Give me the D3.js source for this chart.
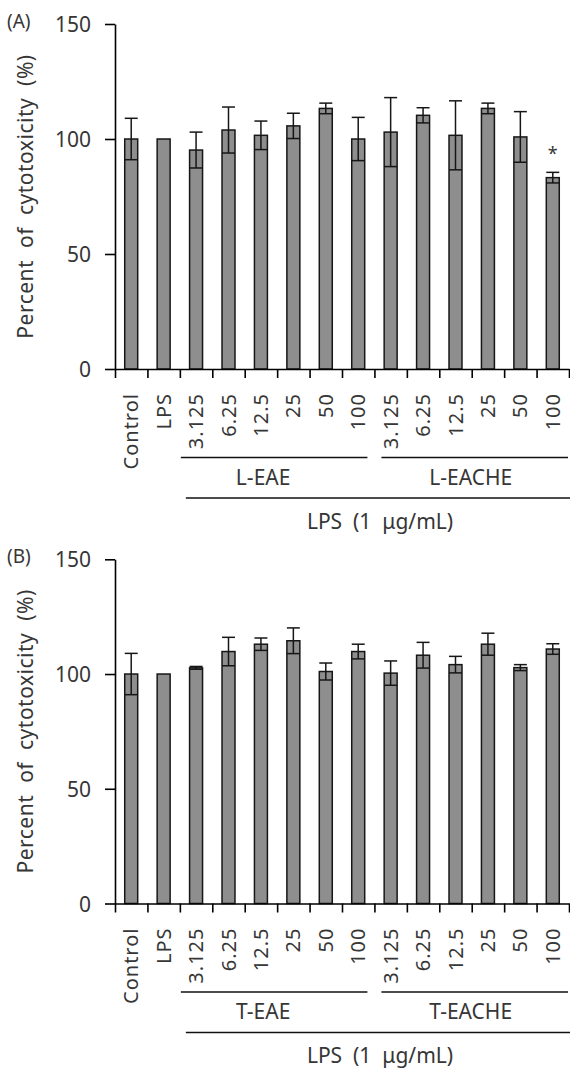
<!DOCTYPE html>
<html>
<head>
<meta charset="utf-8">
<script src="https://cdn.jsdelivr.net/npm/d3@7"></script>
<style>
  body { margin: 0; background: #fff; }
  svg text { font-family: "Noto Sans", "Open Sans", sans-serif; fill: #363636; white-space: pre; }
</style>
</head>
<body>
<svg id="chart" width="570" height="1070"></svg>
<script>
// category labels along the x axis
var categories = ["Control", "LPS", "3.125", "6.25", "12.5", "25", "50", "100",
                  "3.125", "6.25", "12.5", "25", "50", "100"];
var yTicks = [0, 50, 100, 150];

// panel A: leaf extracts
var meansA = [100, 100, 95.2, 103.9, 101.6, 105.7, 113.3, 100, 103, 110.3, 101.6, 113.3, 100.9, 83.2];
var errA   = [9, 0, 7.8, 10, 6.2, 5.5, 2.3, 9.4, 15, 3.3, 15, 2.3, 11, 2.3];
var starsA = ["", "", "", "", "", "", "", "", "", "", "", "", "", "*"];
var groupsA = ["L-EAE", "L-EACHE"];

// panel B: twig extracts
var meansB = [100, 100, 102.7, 109.8, 113, 114.5, 101.1, 109.8, 100.4, 108.2, 104.1, 113, 102.8, 110.9];
var errB   = [9, 0, 0.6, 6.2, 2.7, 5.6, 3.7, 3.2, 5.3, 5.6, 3.6, 4.8, 1.3, 2.3];
var starsB = ["", "", "", "", "", "", "", "", "", "", "", "", "", ""];
var groupsB = ["T-EAE", "T-EACHE"];

var lpsLabel = "LPS  (1  \u03bcg/mL)";
var yTitle = "Percent  of  cytotoxicity  (%)";

var svg = d3.select("#chart");

function drawPanel(tag, means, errs, stars, groups, top, bottom) {
    var left = 115, right = 569;
    var g = svg.append("g");

    var idx = d3.range(categories.length);
    var x = d3.scaleBand().domain(idx).range([left, right]).paddingInner(0.6).paddingOuter(0.3);
    var y = d3.scaleLinear().domain([0, 150]).range([bottom, top]);
    var step = x.step();
    var boundary = function(i) { return left + i * step; };

    // bars
    g.selectAll("rect.bar").data(idx).enter().append("rect")
        .attr("x", function(i) { return x(i); })
        .attr("y", function(i) { return y(means[i]); })
        .attr("width", x.bandwidth())
        .attr("height", function(i) { return y(0) - y(means[i]); })
        .attr("fill", "#8e8e8e")
        .attr("stroke", "#161616")
        .attr("stroke-width", 1.5);

    // error bars (both ends capped)
    var withErr = idx.filter(function(i) { return errs[i] > 0; });
    var eb = g.selectAll("g.err").data(withErr).enter().append("g")
        .attr("stroke", "#161616").attr("stroke-width", 1.5);
    eb.append("line")
        .attr("x1", function(i) { return x(i) + x.bandwidth() / 2; })
        .attr("x2", function(i) { return x(i) + x.bandwidth() / 2; })
        .attr("y1", function(i) { return y(means[i] + errs[i]); })
        .attr("y2", function(i) { return y(means[i] - errs[i]); });
    eb.append("line")
        .attr("x1", function(i) { return x(i); })
        .attr("x2", function(i) { return x(i) + x.bandwidth(); })
        .attr("y1", function(i) { return y(means[i] + errs[i]); })
        .attr("y2", function(i) { return y(means[i] + errs[i]); });
    eb.append("line")
        .attr("x1", function(i) { return x(i); })
        .attr("x2", function(i) { return x(i) + x.bandwidth(); })
        .attr("y1", function(i) { return y(means[i] - errs[i]); })
        .attr("y2", function(i) { return y(means[i] - errs[i]); });

    // significance marks
    g.selectAll("text.star").data(idx.filter(function(i) { return stars[i]; })).enter().append("text")
        .attr("x", function(i) { return x(i) + x.bandwidth() / 2; })
        .attr("y", function(i) { return y(means[i] + errs[i]) - 12; })
        .attr("text-anchor", "middle")
        .style("font-size", "18px")
        .text(function(i) { return stars[i]; });

    // y axis
    var yAxis = g.append("g").attr("transform", "translate(" + left + ",0)")
        .call(d3.axisLeft(y).tickValues(yTicks).tickSize(10).tickPadding(14).tickSizeOuter(0));
    yAxis.select(".domain").attr("stroke", "#000").attr("stroke-width", 1.6);
    yAxis.selectAll(".tick line").attr("stroke", "#000").attr("stroke-width", 1.6);
    yAxis.selectAll(".tick text").style("font-size", "21px").attr("fill", "#363636")
        .style("font-family", "'Noto Sans', sans-serif").attr("dy", "0.36em");

    // x axis: ticks at category boundaries
    var xb = d3.scaleLinear().domain([0, categories.length]).range([left, right]);
    var xAxis = g.append("g").attr("transform", "translate(0," + bottom + ")")
        .call(d3.axisBottom(xb).tickValues(d3.range(categories.length + 1)).tickSize(9).tickFormat("").tickSizeOuter(0));
    xAxis.select(".domain").attr("stroke", "#000").attr("stroke-width", 1.6);
    xAxis.selectAll(".tick line").attr("stroke", "#000").attr("stroke-width", 1.6);

    // x labels, rotated
    g.selectAll("text.xl").data(idx).enter().append("text")
        .attr("transform", function(i) {
            return "translate(" + (x(i) + x.bandwidth() / 2 + 7) + "," + (bottom + 24) + ") rotate(-90)";
        })
        .attr("text-anchor", "end")
        .style("font-size", "20px")
        .style("letter-spacing", "1px")
        .text(function(i) { return categories[i]; });

    // group brackets
    var gl = bottom + 88.5;
    var spans = [[boundary(2) + 1, boundary(8) - 7], [boundary(8) + 7, boundary(14) - 1]];
    var shifts = [-11, -4];
    spans.forEach(function(s, k) {
        g.append("line").attr("x1", s[0]).attr("x2", s[1]).attr("y1", gl).attr("y2", gl)
            .attr("stroke", "#111").attr("stroke-width", 1.6);
        g.append("text").attr("x", (s[0] + s[1]) / 2 + shifts[k]).attr("y", gl + 27)
            .attr("text-anchor", "middle").style("font-size", "21px").text(groups[k]);
    });
    var ll = bottom + 129;
    g.append("line").attr("x1", boundary(2) + 6).attr("x2", right + 2).attr("y1", ll).attr("y2", ll)
        .attr("stroke", "#111").attr("stroke-width", 1.6);
    g.append("text").attr("x", 380).attr("y", bottom + 159.5)
        .attr("text-anchor", "middle").style("font-size", "21px").text(lpsLabel);

    // y title
    g.append("text")
        .attr("transform", "translate(33," + ((top + bottom) / 2) + ") rotate(-90)")
        .attr("text-anchor", "middle")
        .style("font-size", "21px")
        .style("letter-spacing", "0.5px")
        .text(yTitle);

    // panel tag
    g.append("text").attr("x", 7).attr("y", top + 4).style("font-size", "19px").text(tag);
}

drawPanel("(A)", meansA, errA, starsA, groupsA, 24, 369);
drawPanel("(B)", meansB, errB, starsB, groupsB, 559.3, 903.5);
</script>
</body>
</html>
